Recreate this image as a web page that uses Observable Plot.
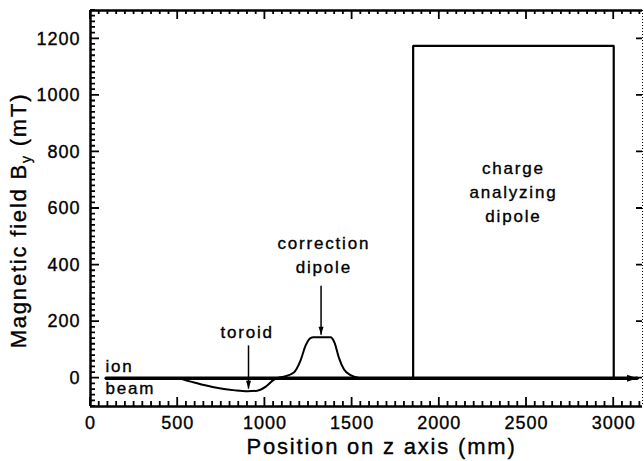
<!DOCTYPE html>
<html><head><meta charset="utf-8">
<script src="https://cdn.jsdelivr.net/npm/d3@7"></script>
<script src="https://cdn.jsdelivr.net/npm/@observablehq/plot@0.6"></script>
<style>body{margin:0;background:#fff}</style>
</head><body><div id="chart"></div>
<script>
// Tick labels
const xTickValues = [0, 500, 1000, 1500, 2000, 2500, 3000];
const yTickValues = [0, 200, 400, 600, 800, 1000, 1200];
const xDomain = [0, 3165];
const yDomain = [-100, 1300];
const xMinor = d3.range(0, 3165, 50);
const yMinor = d3.range(-100, 1301, 20);

// Field along the beam (toroid dip + correction dipole bump)
const fieldZ = [90, 500, 550, 600, 650, 700, 765, 830, 900, 955, 1005, 1050, 1067, 1108, 1166, 1204, 1233, 1261, 1278, 1376, 1399, 1424, 1453, 1491, 1539, 1560];
const fieldB = [0, 0, -8, -16, -24, -31, -38, -43, -46, -44, -30, -6, 0, 5, 20, 62, 115, 142, 145, 145, 126, 73, 32, 11, 1, 0];

// Charge analyzing dipole (rectangular field)
const dipoleZ = [1850, 1850, 3000, 3000];
const dipoleB = [0, 1175, 1175, 0];

// Ion beam axis
const beamZ = [90, 3134];
const beamB = [0, 0];

// Annotations (centred)
const labelText = ["charge\nanalyzing\ndipole", "correction\ndipole", "toroid"];
const labelZ = [2425, 1338, 898];
const labelB = [664, 442, 170];
// Annotations (left aligned)
const sideText = ["ion", "beam"];
const sideZ = [86, 86];
const sideB = [41, -38];

const arrowZ = [906, 1322];
const arrowFrom = [116, 327];
const arrowTo = [-37, 154];

const field = fieldZ.map((z, i) => ({z, b: fieldB[i]}));
const dipole = dipoleZ.map((z, i) => ({z, b: dipoleB[i]}));
const beam = beamZ.map((z, i) => ({z, b: beamB[i]}));
const labels = labelText.map((t, i) => ({t, z: labelZ[i], b: labelB[i]}));
const sides = sideText.map((t, i) => ({t, z: sideZ[i], b: sideB[i]}));
const arrows = arrowZ.map((z, i) => ({z, b1: arrowFrom[i], b2: arrowTo[i]}));

const headShape = (hw) => ({draw(ctx, l) { ctx.moveTo(0, -l); ctx.lineTo(-hw, 0); ctx.lineTo(hw, 0); ctx.closePath(); }});

const chart = Plot.plot({
  width: 644, height: 461,
  marginLeft: 90, marginRight: 2, marginTop: 10, marginBottom: 55,
  x: {domain: xDomain},
  y: {domain: yDomain},
  style: {fontFamily: "'Liberation Sans', Arial, sans-serif", fontSize: "18px", background: "white", color: "black", letterSpacing: "1px"},
  marks: [
    Plot.axisX(xTickValues, {anchor: "bottom", tickSize: 0, tickPadding: 10, fontSize: 18, label: null, tickFormat: d3.format("d")}),
    Plot.axisY(yTickValues, {anchor: "left", tickSize: 0, tickPadding: 10, fontSize: 18, label: null, tickFormat: d3.format("d")}),
    // frame
    Plot.ruleX([xDomain[0]], {strokeWidth: 2.5}),
    Plot.ruleY([yDomain[0]], {strokeWidth: 2.5}),
    Plot.ruleY([yDomain[1]], {strokeWidth: 2.5}),
    Plot.ruleX([xDomain[1]], {strokeWidth: 1, strokeDasharray: "1,2"}),
    // dipole box
    Plot.line(dipole, {x: "z", y: "b", strokeWidth: 2.2, strokeLinejoin: "miter"}),
    // field curve
    Plot.line(field, {x: "z", y: "b", strokeWidth: 2, curve: "monotone-x"}),
    // beam axis
    Plot.line(beam, {x: "z", y: "b", strokeWidth: 3.5}),
    Plot.vector([beam[1]], {x: "z", y: "b", length: 10, rotate: 90, anchor: "end", shape: headShape(3.5), fill: "black", stroke: "none"}),
    // annotation arrows
    Plot.link(arrows, {x1: "z", x2: "z", y1: "b1", y2: "b2", strokeWidth: 1.5}),
    Plot.vector(arrows, {x: "z", y: "b2", length: 8, rotate: 180, anchor: "end", shape: headShape(2.5), fill: "black", stroke: "none"}),
    // annotation text
    Plot.text(labels, {x: "z", y: "b", text: "t", textAnchor: "middle", fontSize: 17, lineHeight: 1.4, lineAnchor: "middle"}),
    Plot.text(sides, {x: "z", y: "b", text: "t", textAnchor: "start", fontSize: 17, lineAnchor: "middle"}),
    // axis titles
    Plot.text(["Position on z axis (mm)"], {frameAnchor: "bottom", textAnchor: "middle", dx: 15, dy: 40, fontSize: 22, lineAnchor: "middle"}),
    Plot.text(["Magnetic field B"], {frameAnchor: "left", textAnchor: "middle", rotate: -90, dx: -72, dy: 12, fontSize: 22, lineAnchor: "middle"})
  ]
});

// Inward tick marks, placed with the chart's own scales
const sx = chart.scale("x"), sy = chart.scale("y");
const X = (v) => sx.apply(v), Y = (v) => sy.apply(v);
const yb = Y(yDomain[0]), yt = Y(yDomain[1]), xl = X(xDomain[0]), xr = X(xDomain[1]);
let d = "";
const majX = new Set(xTickValues), majY = new Set(yTickValues);
for (const v of xMinor) {
  const L = majX.has(v) ? 9 : 5, Lt = majX.has(v) ? 9 : 4, x = X(v);
  d += `M${x},${yb}v${-L}M${x},${yt}v${Lt}`;
}
for (const v of yMinor) {
  const L = majY.has(v) ? 9 : 5, y = Y(v);
  d += `M${xl},${y}h${L}`;
  if (majY.has(v)) d += `M${xr},${y}h-6`;
}
const tickPath = document.createElementNS("http://www.w3.org/2000/svg", "path");
tickPath.setAttribute("d", d);
tickPath.setAttribute("stroke", "black");
tickPath.setAttribute("stroke-width", "1.8");
tickPath.setAttribute("fill", "none");
chart.appendChild(tickPath);

const spaced = new Set([...labelText.flatMap(t => t.split("\n")), ...sideText, "Position on z axis (mm)", "Magnetic field B"]);
chart.querySelectorAll("text").forEach(t => {
  t.style.stroke = "black";
  t.style.strokeWidth = "0.35px";
  if (spaced.has(t.textContent.trim())) t.style.letterSpacing = "1.8px";
  t.querySelectorAll("tspan").forEach(s => { if (spaced.has(s.textContent.trim())) s.style.letterSpacing = "1.8px"; });
  if (t.textContent === "Magnetic field B") {
    t.innerHTML = 'Magnetic field B<tspan dy="5" font-size="14">y</tspan><tspan dy="-5"> (mT)</tspan>';
  }
});
document.getElementById("chart").appendChild(chart);
</script>
</body></html>
